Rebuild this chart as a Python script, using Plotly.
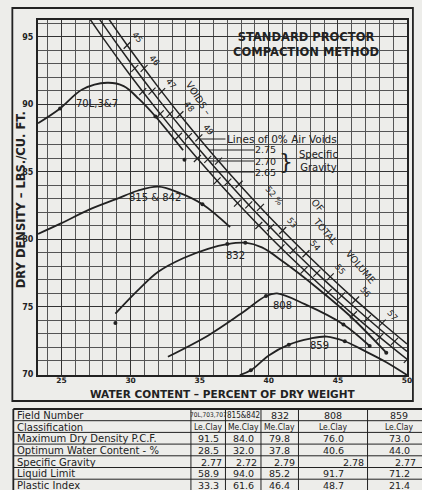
import plotly.graph_objects as go

# ---------------- data ----------------
# compaction curves: water content (%) vs dry density (pcf)
c701_w = [23.3, 24.9, 26.5, 28.3, 29.5, 30.6, 31.8, 33.8]
c701_d = [88.6, 89.7, 91.1, 91.6, 91.35, 90.4, 89.1, 86.6]
c815_w = [23.3, 25.0, 27.0, 29.0, 30.5, 32.0, 33.4, 35.2, 37.2]
c815_d = [80.4, 81.2, 82.2, 83.0, 83.6, 83.9, 83.5, 82.6, 80.9]
c832_w = [28.9, 30.5, 32.0, 33.8, 35.6, 37.0, 38.3, 39.5, 41.1, 43.5, 45.9, 48.5]
c832_d = [74.5, 76.2, 77.6, 78.6, 79.3, 79.65, 79.75, 79.4, 78.3, 76.4, 74.3, 71.6]
c808_w = [32.7, 35.65, 38.0, 39.8, 40.6, 42.6, 45.4, 47.3]
c808_d = [71.3, 72.9, 74.5, 75.8, 76.0, 75.2, 73.7, 72.1]
c859_w = [37.9, 38.7, 40.0, 41.45, 43.0, 44.2, 45.5, 47.0, 48.5, 50.0]
c859_d = [69.95, 70.3, 71.4, 72.2, 72.65, 72.8, 72.45, 71.7, 70.9, 69.95]

# plotted test points
pts_w = [24.9, 31.8, 33.9, 35.2, 28.9, 37.0, 38.3, 48.5, 39.8, 45.4, 47.3, 38.7, 41.45, 45.5]
pts_d = [89.7, 89.1, 85.9, 82.6, 73.8, 79.65, 79.75, 71.6, 75.8, 73.7, 72.1, 70.3, 72.2, 72.45]

# zero-air-voids lines (read at 2 % steps of water content)
zav_w = [26, 28, 30, 32, 34, 36, 38, 40, 42, 44, 46, 48, 50]
zav_275 = [100.06, 96.95, 94.03, 91.28, 88.68, 86.23, 83.91, 81.71, 79.63, 77.65, 75.76, 73.97, 72.25]
zav_270 = [98.99, 95.94, 93.08, 90.39, 87.84, 85.44, 83.16, 81.00, 78.95, 77.00, 75.15, 73.38, 71.69]
zav_265 = [97.90, 94.93, 92.12, 89.48, 86.99, 84.63, 82.39, 80.27, 78.26, 76.34, 74.52, 72.78, 71.12]
spec_gravities = [2.75, 2.70, 2.65]
porosity = [45, 46, 47, 48, 49, 50, 51, 52, 53, 54, 55, 56, 57]
porosity_shown = [45, 46, 47, 48, 49, 52, 53, 54, 55, 56, 57]

# table
row_labels = ["Field Number", "Classification", "Maximum Dry Density P.C.F.",
              "Optimum Water Content - %", "Specific Gravity", "Liquid Limit", "Plastic Index"]
field_numbers = ["70L,703,707", "815&842", "832", "808", "859"]
classification = ["Le.Clay", "Me.Clay", "Me.Clay", "Le.Clay", "Le.Clay"]
max_dry_density = [91.5, 84.0, 79.8, 76.0, 73.0]
optimum_water = [28.5, 32.0, 37.8, 40.6, 44.0]
specific_gravity = [2.77, 2.72, 2.79, 2.78, 2.77]
liquid_limit = [58.9, 94.0, 85.2, 91.7, 71.2]
plastic_index = [33.3, 61.6, 46.4, 48.7, 21.4]

# ---------------- layout helpers ----------------
W, H = 422, 490
L, R, T, B = 38, 10, 20, 115
PW, PH = W - L - R, H - T - B
X0, X1, Y0, Y1 = 23.3, 50.0, 69.95, 96.25
def px(x):
    return (x - L) / PW
def py(y):
    return (H - B - y) / PH
def xval(pxx):
    return X0 + (pxx - L) / PW * (X1 - X0)
def yval(pyy):
    return Y1 - (pyy - T) / PH * (Y1 - Y0)

INK = "#222222"
BG = "#ededea"
FONT = "DejaVu Sans"
COND = "DejaVu Sans Condensed, DejaVu Sans"

fig = go.Figure()

# zero air voids lines
for gs, d in zip(spec_gravities, [zav_275, zav_270, zav_265]):
    fig.add_trace(go.Scatter(x=zav_w, y=d, mode="lines", line=dict(color=INK, width=1.5, shape="spline"),
                             hoverinfo="skip", showlegend=False))
    tw = [n / 100 / ((1 - n / 100) * gs) * 100 for n in porosity]
    td = [gs * 62.4 * (1 - n / 100) for n in porosity]
    fig.add_trace(go.Scatter(x=tw, y=td, mode="markers",
                             marker=dict(symbol="line-ne", size=7, line=dict(color=INK, width=1.2)),
                             hoverinfo="skip", showlegend=False))

# compaction curves
for w, d in [(c701_w, c701_d), (c815_w, c815_d), (c832_w, c832_d), (c808_w, c808_d), (c859_w, c859_d)]:
    fig.add_trace(go.Scatter(x=w, y=d, mode="lines", line=dict(color=INK, width=1.8, shape="spline", smoothing=1.0),
                             hoverinfo="skip", showlegend=False))
fig.add_trace(go.Scatter(x=pts_w, y=pts_d, mode="markers", marker=dict(color=INK, size=4),
                         hoverinfo="skip", showlegend=False))

ann = []
def A(**k):
    k.setdefault("showarrow", False)
    k.setdefault("xanchor", "center")
    k.setdefault("yanchor", "middle")
    k.setdefault("borderpad", 0)
    ann.append(k)

def P(pxx, pyy, text, size=9, family=FONT, xanchor="center", angle=0):
    A(x=px(pxx), y=py(pyy), xref="paper", yref="paper", text=text, xanchor=xanchor, textangle=angle,
      font=dict(family=family, size=size, color=INK))

# porosity labels along the 2.75 line
gs0 = spec_gravities[0]
for n in porosity_shown:
    w = n / 100 / ((1 - n / 100) * gs0) * 100
    d = gs0 * 62.4 * (1 - n / 100)
    txt = f"{n} %" if n == 52 else str(n)
    A(x=w, y=d, text=txt, xshift=10 if n != 52 else 14, yshift=8 if n != 52 else 11, textangle=50,
      font=dict(family=FONT, size=8.5, color=INK))

# curve labels
for t, x, y in [("70L,3&7", 27.6, 90.1), ("815 & 842", 31.8, 83.1), ("832", 37.6, 78.8),
                ("808", 41.0, 75.1), ("859", 43.7, 72.15)]:
    A(x=x, y=y, text=t, font=dict(family=FONT, size=10, color=INK))

# voids text
for t, x, y, a in [("VOIDS –", 34.95, 90.45, 57), ("OF", 43.55, 82.5, 50), ("TOTAL", 44.1, 80.55, 50),
                   ("VOLUME", 46.7, 77.95, 50)]:
    A(x=x, y=y, text=t, textangle=a, font=dict(family=FONT, size=9.5, color=INK))

# title
P(310, 44, "<b>STANDARD PROCTOR<br>COMPACTION METHOD</b>", size=11.5)
# legend for zero air voids
P(229, 138.5, "Lines of 0% Air Voids", size=10.5, xanchor="left")
for i, gs in enumerate(spec_gravities):
    P(280, 150 + 11 * i, f"{gs:.2f}", size=9.5, xanchor="right")
P(289, 161, "}", size=22)
P(322, 161, "Specific<br>Gravity", size=10)

# axis titles
P(226, 394, "<b>WATER CONTENT – PERCENT OF DRY WEIGHT</b>", size=10.5)
P(21, 200, "<b>DRY DENSITY – LBS./CU. FT.</b>", size=11.5, angle=-90)

shapes = []
def pline(x0, y0, x1, y1, w=1.0):
    shapes.append(dict(type="line", xref="paper", yref="paper", x0=px(x0), y0=py(y0), x1=px(x1), y1=py(y1),
                       line=dict(color=INK, width=w)))

# leader lines from the zero air voids lines
def w_on(gs, d):
    return (gs * 62.4 / d - 1) / gs * 100
lead_y = [139, 150, 161, 172]
for gs, ly, x1 in zip([2.75] + spec_gravities, lead_y, [228, 257, 257, 257]):
    d = yval(ly)
    shapes.append(dict(type="line", xref="x", yref="paper", x0=w_on(gs, d), x1=xval(x1),
                       y0=py(ly), y1=py(ly), line=dict(color=INK, width=1)))

# outer frame
shapes.append(dict(type="rect", xref="paper", yref="paper", x0=px(12), y0=py(8), x1=px(418), y1=py(401),
                   line=dict(color=INK, width=1.8)))

# table
row_top = 409
row_h = 11.7
col_x = [13, 193, 228, 264, 302, 372, 440]
for i in range(len(row_labels) + 1):
    yy = row_top + i * row_h
    pline(13, yy, 440, yy, 1.8 if i == 0 else 1.0)
for j, cx in enumerate(col_x):
    pline(cx, row_top, cx, H + 5, 1.8 if j == 0 else 1.0)

values = [field_numbers, classification,
          [f"{v:.1f}" for v in max_dry_density], [f"{v:.1f}" for v in optimum_water],
          [f"{v:.2f}" for v in specific_gravity], [f"{v:.1f}" for v in liquid_limit],
          [f"{v:.1f}" for v in plastic_index]]
for i, lab in enumerate(row_labels):
    yc = row_top + (i + 0.5) * row_h + 0.5
    P(16, yc, lab, size=10, xanchor="left")
    for j, v in enumerate(values[i]):
        c0, c1 = col_x[j + 1], col_x[j + 2]
        size = 9.5
        fam = FONT
        if i == 0 and j == 0:
            size, fam = 6.5, COND
        elif i == 0 and j == 1:
            size, fam = 8, COND
        elif i == 1:
            size, fam = 8.5, COND
        if i == 4:
            right = c1 - 3 if j < 4 else 422
            P(right, yc, v, size=size, family=fam, xanchor="right")
        else:
            cx = (c0 + c1) / 2 if j < 4 else c0 + 32
            P(cx, yc, v, size=size, family=fam)

fig.update_layout(
    width=W, height=H, margin=dict(l=L, r=R, t=T, b=B),
    paper_bgcolor=BG, plot_bgcolor=BG, showlegend=False,
    annotations=ann, shapes=shapes,
    xaxis=dict(range=[X0, X1], dtick=5, tick0=25, showgrid=True, gridcolor="#333", gridwidth=1.3,
               minor=dict(dtick=1, showgrid=True, gridcolor="#555", gridwidth=0.8),
               showline=True, linecolor=INK, linewidth=2, mirror=True, zeroline=False,
               ticks="", tickfont=dict(family=FONT, size=7.5, color=INK, weight="bold"), ticklabelstandoff=-3),
    yaxis=dict(range=[Y0, Y1], dtick=5, tick0=70, showgrid=True, gridcolor="#333", gridwidth=1.3,
               minor=dict(dtick=1, showgrid=True, gridcolor="#555", gridwidth=0.8),
               showline=True, linecolor=INK, linewidth=2, mirror=True, zeroline=False,
               ticks="", tickfont=dict(family=FONT, size=8, color=INK, weight="bold"), ticklabelstandoff=1),
)
fig.write_html("out.html")
